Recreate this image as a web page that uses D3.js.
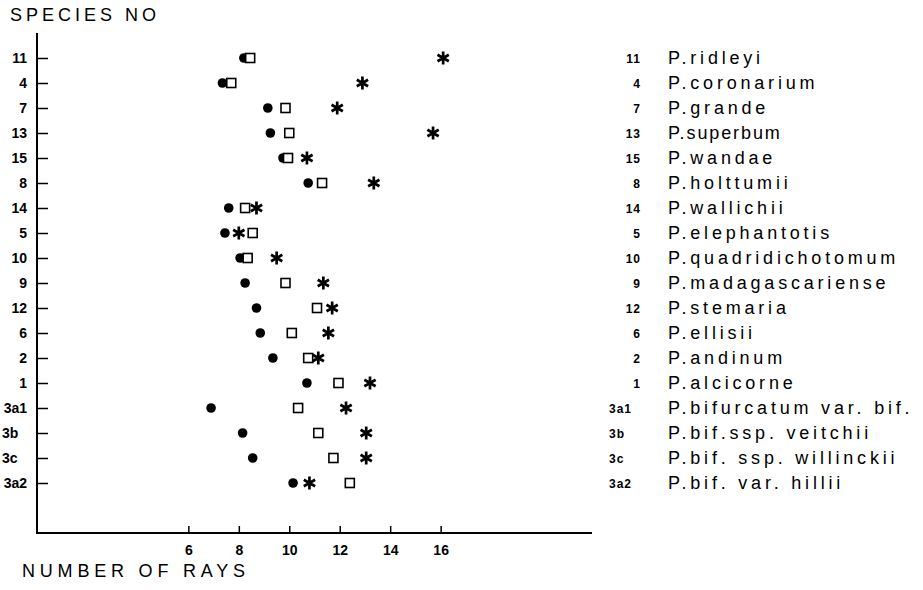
<!DOCTYPE html>
<html>
<head>
<meta charset="utf-8">
<script src="https://cdn.jsdelivr.net/npm/d3@7"></script>
<style>
  body { margin: 0; background: #fff; }
  svg { font-family: "Liberation Sans", Arial, sans-serif; }
</style>
</head>
<body>
<div id="chart-area"></div>
<script>
// Species codes (top to bottom) and their names
const codes = ["11", "4", "7", "13", "15", "8", "14", "5", "10", "9", "12", "6", "2", "1", "3a1", "3b", "3c", "3a2"];
const names = ["P.ridleyi", "P.coronarium", "P.grande", "P.superbum", "P.wandae", "P.holttumii",
    "P.wallichii", "P.elephantotis", "P.quadridichotomum", "P.madagascariense", "P.stemaria",
    "P.ellisii", "P.andinum", "P.alcicorne", "P.bifurcatum var. bif.", "P.bif.ssp. veitchii",
    "P.bif. ssp. willinckii", "P.bif. var. hillii"];

// Number of rays, three measures per species
const dots    = [8.2, 7.35, 9.15, 9.25, 9.75, 10.75, 7.6, 7.45, 8.05, 8.25, 8.7, 8.85, 9.35, 10.7, 6.9, 8.15, 8.55, 10.15];
const squares = [8.45, 7.7, 9.85, 10.0, 9.95, 11.3, 8.25, 8.55, 8.35, 9.85, 11.1, 10.1, 10.75, 11.95, 10.35, 11.15, 11.75, 12.4];
const stars   = [16.1, 12.9, 11.9, 15.7, 10.7, 13.35, 8.7, 8.0, 9.5, 11.35, 11.7, 11.55, 11.15, 13.2, 12.25, 13.05, 13.05, 10.8];

const xTicks = [6, 8, 10, 12, 14, 16];

const W = 923, H = 590;
const svg = d3.select("#chart-area").append("svg")
    .attr("width", W).attr("height", H);

const x = d3.scaleLinear().domain([0, 22]).range([37, 592]);
const y = d3.scalePoint().domain(codes).range([58, 483]);

const axisTop = 33, axisBottom = 533;

// axis lines
svg.append("line")
    .attr("x1", x(0)).attr("x2", x(0))
    .attr("y1", axisTop).attr("y2", axisBottom)
    .attr("stroke", "#000").attr("stroke-width", 2);
svg.append("line")
    .attr("x1", x(0) - 1).attr("x2", x(22))
    .attr("y1", axisBottom).attr("y2", axisBottom)
    .attr("stroke", "#000").attr("stroke-width", 2);

// y ticks
const yAxis = svg.append("g")
    .attr("transform", `translate(${x(0)},0)`)
    .call(d3.axisLeft(y).tickSize(-11).tickPadding(10));
yAxis.select(".domain").remove();
yAxis.selectAll(".tick line").attr("stroke", "#000").attr("stroke-width", 1.5);
yAxis.selectAll(".tick text")
    .attr("fill", "#000")
    .style("font-size", "14px")
    .style("font-weight", "bold")
    .style("font-family", "Liberation Sans, Arial, sans-serif")
    .attr("text-anchor", d => /[a-z]/.test(d) && d.length === 2 ? "start" : "end")
    .attr("x", d => /[a-z]/.test(d) && d.length === 2 ? -35 : -10);

// x ticks
const xAxis = svg.append("g")
    .attr("transform", `translate(0,${axisBottom})`)
    .call(d3.axisBottom(x).tickValues(xTicks).tickSize(-7).tickPadding(12));
xAxis.select(".domain").remove();
xAxis.selectAll(".tick line").attr("stroke", "#000").attr("stroke-width", 1.5);
xAxis.selectAll(".tick text")
    .attr("fill", "#000")
    .style("font-size", "14px")
    .style("font-weight", "bold")
    .style("font-family", "Liberation Sans, Arial, sans-serif");

// titles
svg.append("text")
    .attr("x", 10).attr("y", 21)
    .style("font-size", "18px")
    .style("letter-spacing", "4px")
    .text("SPECIES NO");

svg.append("text")
    .attr("x", 22).attr("y", 577)
    .style("font-size", "18px")
    .style("letter-spacing", "4.8px")
    .text("NUMBER OF RAYS");

// markers
const rows = codes.map((c, i) => ({ code: c, dot: dots[i], square: squares[i], star: stars[i] }));

svg.append("g").selectAll("circle")
    .data(rows).enter().append("circle")
    .attr("cx", d => x(d.dot))
    .attr("cy", d => y(d.code))
    .attr("r", 4.8)
    .attr("fill", "#000");

svg.append("g").selectAll("rect")
    .data(rows).enter().append("rect")
    .attr("x", d => x(d.square) - 4.5)
    .attr("y", d => y(d.code) - 4.5)
    .attr("width", 9).attr("height", 9)
    .attr("fill", "#fff")
    .attr("stroke", "#000")
    .attr("stroke-width", 1.6);

const asterisk = d3.symbol().type(d3.symbolAsterisk).size(120);
svg.append("g").selectAll("path")
    .data(rows).enter().append("path")
    .attr("d", asterisk)
    .attr("transform", d => `translate(${x(d.star)},${y(d.code)})`)
    .attr("fill", "none")
    .attr("stroke", "#000")
    .attr("stroke-width", 2.7);

// legend
const legend = svg.append("g");
const entries = legend.selectAll("g")
    .data(codes.map((c, i) => ({ code: c, name: names[i] })))
    .enter().append("g")
    .attr("transform", d => `translate(0,${y(d.code)})`);

entries.append("text")
    .attr("x", d => /[a-z]/.test(d.code) ? 609 : 641)
    .attr("y", 5)
    .attr("text-anchor", d => /[a-z]/.test(d.code) ? "start" : "end")
    .style("font-size", "12px")
    .style("font-weight", "bold")
    .style("letter-spacing", "1px")
    .text(d => d.code);

entries.append("text")
    .attr("x", 668)
    .attr("y", 6)
    .style("font-size", "18px")
    .style("letter-spacing", d => d.name === "P.superbum" ? "1.9px" : "3.8px")
    .text(d => d.name);
</script>
</body>
</html>
